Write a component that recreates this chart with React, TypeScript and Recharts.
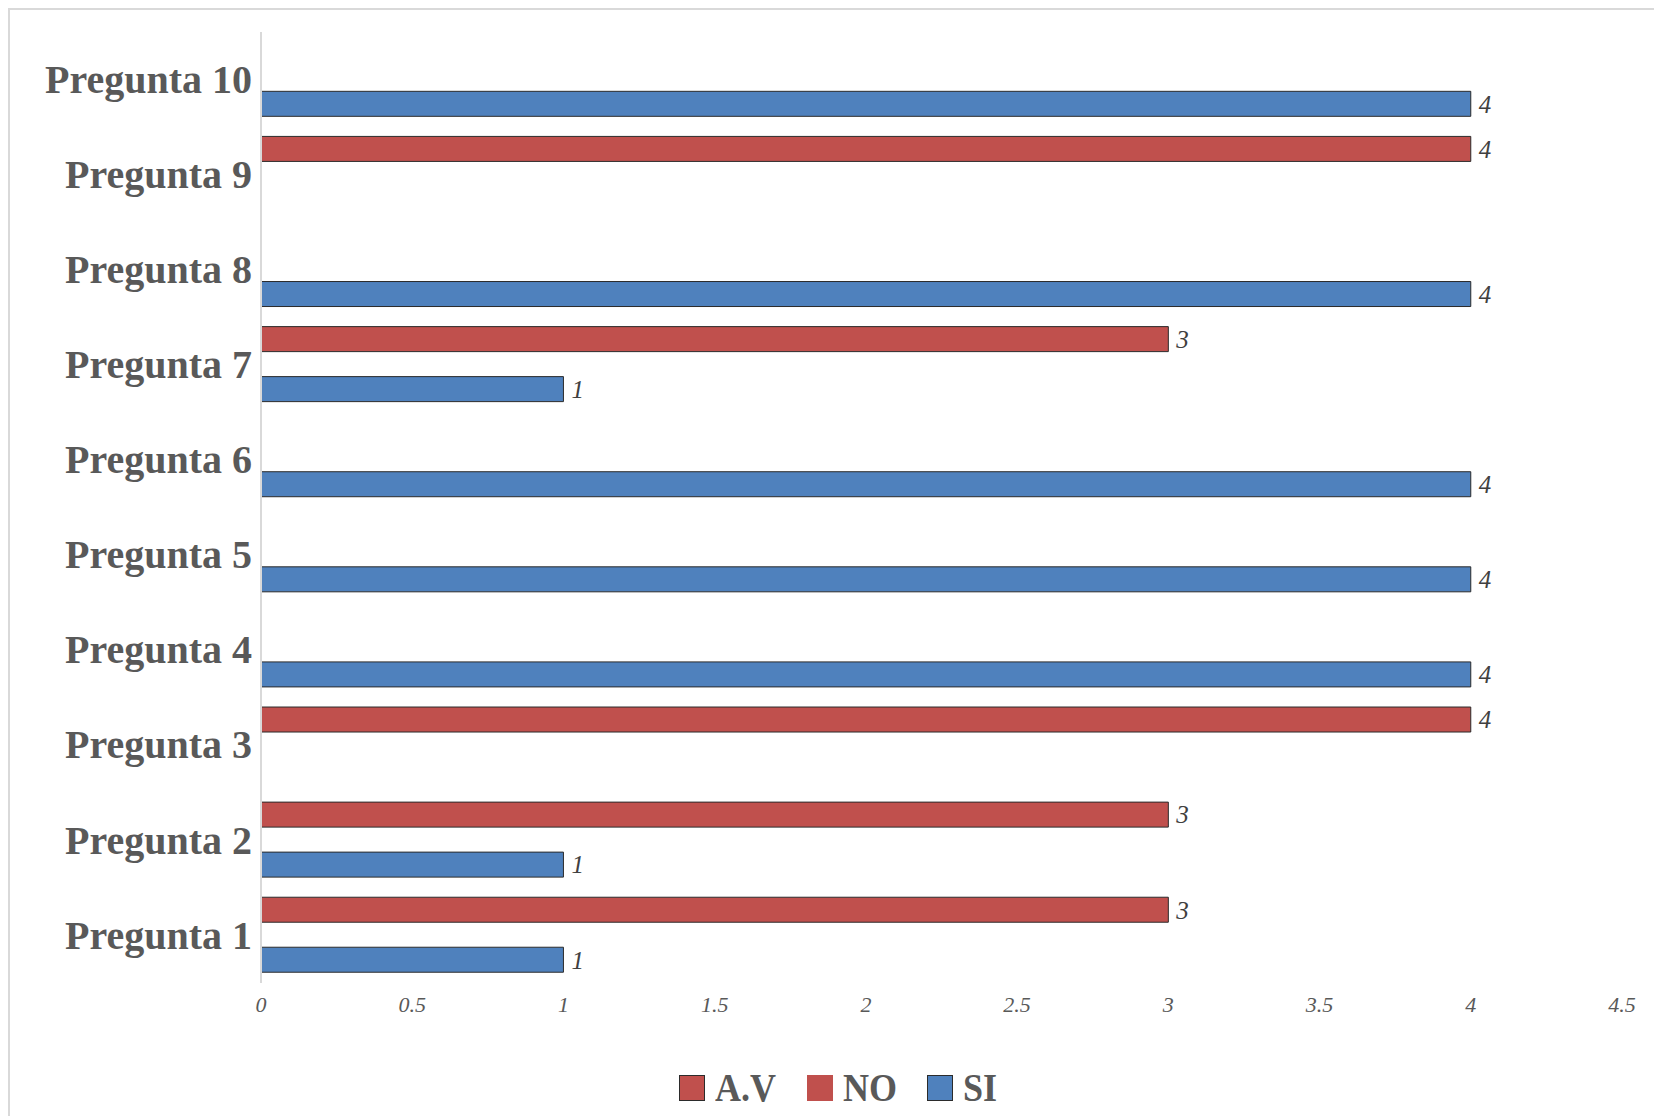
import { Bar, BarChart, LabelList, XAxis, YAxis } from "recharts";

const categories = [
  "Pregunta 1",
  "Pregunta 2",
  "Pregunta 3",
  "Pregunta 4",
  "Pregunta 5",
  "Pregunta 6",
  "Pregunta 7",
  "Pregunta 8",
  "Pregunta 9",
  "Pregunta 10",
];

// blank cells in the source sheet -> null (no bar, no label)
const avValues: (number | null)[] = [null, null, null, null, null, null, null, null, null, null];
const noValues: (number | null)[] = [3, 3, 4, null, null, null, 3, null, 4, null];
const siValues: (number | null)[] = [1, 1, null, 4, 4, 4, 1, 4, null, 4];

const xTicks = [0, 0.5, 1, 1.5, 2, 2.5, 3, 3.5, 4, 4.5];

const data = categories.map((name, i) => ({
  name,
  av: avValues[i],
  no: noValues[i],
  si: siValues[i],
}));

const RED = "#C0504D";
const BLUE = "#4F81BD";
const EDGE = "#2b2b2b";

function CategoryTick({ x, y, payload }: any) {
  return (
    <text
      x={x}
      y={y}
      dy="0.33em"
      textAnchor="end"
      fill="#595959"
      fontFamily="'Liberation Serif', serif"
      fontWeight="bold"
      fontSize={40}
    >
      {payload.value}
    </text>
  );
}

function ValueTick({ x, y, payload }: any) {
  return (
    <text
      x={x}
      y={y}
      dy="0.71em"
      textAnchor="middle"
      fill="#595959"
      fontFamily="'Liberation Serif', serif"
      fontStyle="italic"
      fontSize={22}
    >
      {payload.value}
    </text>
  );
}

const labelStyle = {
  fill: "#404040",
  fontFamily: "'Liberation Serif', serif",
  fontStyle: "italic",
  fontSize: 25,
};

const legendItems = [
  { name: "A.V", color: RED, border: true },
  { name: "NO", color: RED, border: false },
  { name: "SI", color: BLUE, border: true },
];

export default function App() {
  return (
    <div
      style={{
        position: "fixed",
        left: 0,
        top: 0,
        width: 1654,
        height: 1116,
        overflow: "hidden",
        background: "#fff",
      }}
    >
      {/* chart frame, cut off on the right and bottom */}
      <div
        style={{
          position: "absolute",
          left: 8,
          top: 8,
          width: 1700,
          height: 1200,
          border: "2px solid #d9d9d9",
        }}
      />

      <div style={{ position: "absolute", left: 0, top: 0 }}>
        <BarChart
          width={1654}
          height={1116}
          data={data}
          layout="vertical"
          margin={{ top: 32, right: 32, bottom: 93, left: 0 }}
          barCategoryGap="9.8%"
          barGap={0}
        >
          <XAxis
            type="number"
            domain={[0, 4.5]}
            ticks={xTicks}
            axisLine={false}
            tickLine={false}
            tickSize={0}
            tickMargin={13}
            height={40}
            tick={<ValueTick />}
            interval={0}
          />
          <YAxis
            type="category"
            dataKey="name"
            reversed
            width={261}
            axisLine={{ stroke: "#d9d9d9", strokeWidth: 2 }}
            tickLine={false}
            tickSize={0}
            tickMargin={9}
            tick={<CategoryTick />}
            interval={0}
          />
          <Bar dataKey="no" fill={RED} stroke={EDGE} strokeWidth={1} isAnimationActive={false}>
            <LabelList dataKey="no" position="right" offset={8} style={labelStyle} />
          </Bar>
          <Bar dataKey="av" fill={RED} stroke={EDGE} strokeWidth={1} isAnimationActive={false}>
            <LabelList dataKey="av" position="right" offset={8} style={labelStyle} />
          </Bar>
          <Bar dataKey="si" fill={BLUE} stroke={EDGE} strokeWidth={1} isAnimationActive={false}>
            <LabelList dataKey="si" position="right" offset={8} style={labelStyle} />
          </Bar>
        </BarChart>
      </div>

      {/* Legend */}
      <div
        style={{
          position: "absolute",
          left: 679,
          top: 1068,
          height: 40,
          display: "flex",
          alignItems: "center",
          fontFamily: "'Liberation Serif', serif",
          fontWeight: "bold",
          fontSize: 40,
          color: "#595959",
        }}
      >
        {legendItems.map((item) => (
          <div key={item.name} style={{ display: "flex", alignItems: "center", marginRight: 24 }}>
            <span
              style={{
                display: "inline-block",
                width: 26,
                height: 26,
                boxSizing: "border-box",
                background: item.color,
                border: item.border ? `1px solid ${EDGE}` : "none",
              }}
            />
            <span
              style={{
                display: "inline-block",
                marginLeft: 10,
                lineHeight: "40px",
                transform: "scaleX(0.9)",
                transformOrigin: "left center",
              }}
            >
              {item.name}
            </span>
          </div>
        ))}
      </div>
    </div>
  );
}
